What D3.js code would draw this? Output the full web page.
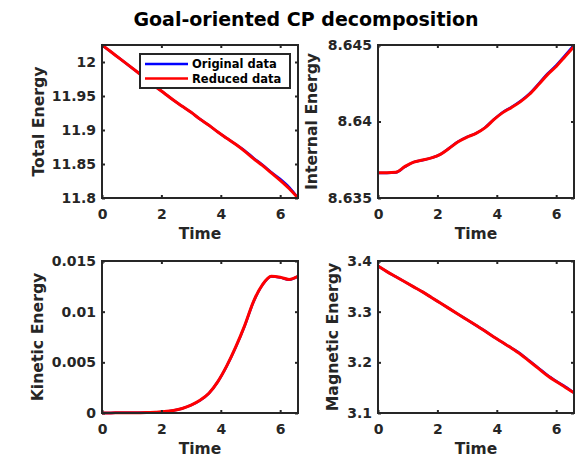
<!DOCTYPE html>
<html>
<head>
<meta charset="utf-8">
<script src="https://cdn.jsdelivr.net/npm/d3@7"></script>
<style>
  html, body { margin: 0; padding: 0; background: #fff; }
  svg { display: block; font-family: "DejaVu Sans", sans-serif; }
</style>
</head>
<body>
<svg id="chart" width="583" height="457"></svg>
<script>
// ---------- data ----------
const time = [0,0.3,0.6,0.9,1.2,1.5,1.8,2.1,2.4,2.7,3.0,3.3,3.6,3.9,4.2,4.5,4.8,5.1,5.4,5.7,6.0,6.3,6.6];

const totalOriginal = [12.025,12.015,12.005,11.995,11.985,11.975,11.964,11.954,11.944,11.935,11.926,11.916,11.907,11.897,11.888,11.879,11.870,11.859,11.849,11.838,11.828,11.816,11.800];
const totalReduced  = [12.025,12.015,12.005,11.995,11.985,11.975,11.964,11.954,11.944,11.935,11.926,11.916,11.907,11.897,11.888,11.879,11.869,11.858,11.848,11.837,11.826,11.814,11.800];

const internalOriginal = [8.63664,8.63664,8.63667,8.63703,8.63734,8.63747,8.63762,8.63785,8.63826,8.63869,8.63899,8.63923,8.63960,8.64014,8.64061,8.64095,8.64134,8.64182,8.64245,8.64311,8.64367,8.64432,8.64500];
const internalReduced  = [8.63665,8.63665,8.63668,8.63705,8.63735,8.63748,8.63762,8.63785,8.63825,8.63868,8.63898,8.63922,8.63958,8.64012,8.64058,8.64092,8.64130,8.64178,8.64240,8.64305,8.64360,8.64425,8.64490];

const kineticOriginal = [0.00001,0.00001,0.00002,0.00002,0.00003,0.00004,0.00006,0.00011,0.00024,0.00044,0.00077,0.00124,0.00194,0.00308,0.00462,0.00646,0.00855,0.01095,0.01262,0.01347,0.01338,0.01316,0.01348];
const kineticReduced  = [0.00001,0.00001,0.00002,0.00002,0.00003,0.00004,0.00008,0.00014,0.00025,0.00045,0.00078,0.00125,0.00195,0.00310,0.00465,0.00650,0.00860,0.01100,0.01265,0.01350,0.01340,0.01318,0.01350];

const magneticOriginal = [3.390,3.379,3.369,3.359,3.349,3.339,3.328,3.317,3.306,3.295,3.284,3.273,3.262,3.250,3.239,3.228,3.217,3.203,3.189,3.175,3.163,3.152,3.140];
const magneticReduced  = [3.390,3.379,3.369,3.359,3.349,3.339,3.328,3.317,3.306,3.295,3.284,3.273,3.262,3.250,3.239,3.228,3.216,3.202,3.188,3.174,3.162,3.151,3.140];

const xTicks = [0,2,4,6];
const totalTicks = [11.8,11.85,11.9,11.95,12];
const internalTicks = [8.635,8.64,8.645];
const kineticTicks = [0,0.005,0.01,0.015];
const magneticTicks = [3.1,3.2,3.3,3.4];

const titleText = "Goal-oriented CP decomposition";
const xLabel = "Time";
const legendLabels = ["Original data","Reduced data"];
const seriesColors = ["#0000ff","#ff0000"];

// ---------- layout ----------
const svg = d3.select("#chart");
const axisColor = "#262626";

const panels = [
  {x0:102, x1:298, y0:45,  y1:198, ydom:[11.8,12.025], yticks:totalTicks,    ylab:"Total Energy",     labX:43.5, orig:totalOriginal,    red:totalReduced, legend:true},
  {x0:378, x1:574, y0:45,  y1:198, ydom:[8.635,8.645], yticks:internalTicks, ylab:"Internal Energy",  labX:317,  orig:internalOriginal, red:internalReduced},
  {x0:102, x1:298, y0:261, y1:413, ydom:[0,0.015],     yticks:kineticTicks,  ylab:"Kinetic Energy",   labX:43,   orig:kineticOriginal,  red:kineticReduced},
  {x0:378, x1:574, y0:261, y1:413, ydom:[3.1,3.4],     yticks:magneticTicks, ylab:"Magnetic Energy",  labX:338,  orig:magneticOriginal, red:magneticReduced}
];

svg.append("text")
  .attr("x", 306).attr("y", 25.5)
  .attr("text-anchor", "middle")
  .attr("font-size", "19px").attr("font-weight", "bold")
  .attr("fill", "#000")
  .text(titleText);

panels.forEach((p, i) => {
  const x = d3.scaleLinear().domain([0, 6.6]).range([p.x0, p.x1]);
  const y = d3.scaleLinear().domain(p.ydom).range([p.y1, p.y0]);
  const g = svg.append("g");

  const clipId = "clip" + i;
  svg.append("clipPath").attr("id", clipId)
    .append("rect").attr("x", p.x0).attr("y", p.y0 - 2)
    .attr("width", p.x1 - p.x0 + 2).attr("height", p.y1 - p.y0 + 4);

  const line = d3.line().x((d, j) => x(time[j])).y(d => y(d)).curve(d3.curveMonotoneX);

  g.append("path").datum(p.orig)
    .attr("d", line).attr("fill", "none")
    .attr("stroke", seriesColors[0]).attr("stroke-width", 2.5)
    .attr("clip-path", `url(#${clipId})`);
  g.append("path").datum(p.red)
    .attr("d", line).attr("fill", "none")
    .attr("stroke", seriesColors[1]).attr("stroke-width", 3)
    .attr("clip-path", `url(#${clipId})`);

  const fmt = d => String(+d.toFixed(4));

  const styleAxis = sel => {
    sel.select(".domain").remove();
    sel.selectAll(".tick line").attr("stroke", axisColor).attr("stroke-width", 2);
    sel.selectAll(".tick text").attr("fill", axisColor)
      .attr("font-size", "14px").attr("font-weight", "bold")
      .attr("font-family", "DejaVu Sans, sans-serif");
  };

  g.append("g").attr("transform", `translate(0,${p.y1})`)
    .call(d3.axisBottom(x).tickValues(xTicks).tickSize(-3).tickPadding(11).tickFormat(fmt))
    .call(styleAxis);
  g.append("g").attr("transform", `translate(0,${p.y0})`)
    .call(d3.axisTop(x).tickValues(xTicks).tickSize(-3).tickFormat(""))
    .call(styleAxis);
  g.append("g").attr("transform", `translate(${p.x0},0)`)
    .call(d3.axisLeft(y).tickValues(p.yticks).tickSize(-3).tickPadding(6).tickFormat(fmt))
    .call(styleAxis);
  g.append("g").attr("transform", `translate(${p.x1},0)`)
    .call(d3.axisRight(y).tickValues(p.yticks).tickSize(-3).tickFormat(""))
    .call(styleAxis);

  g.append("rect")
    .attr("x", p.x0).attr("y", p.y0)
    .attr("width", p.x1 - p.x0).attr("height", p.y1 - p.y0)
    .attr("fill", "none").attr("stroke", axisColor).attr("stroke-width", 2);

  g.append("text")
    .attr("x", (p.x0 + p.x1) / 2).attr("y", p.y1 + 41)
    .attr("text-anchor", "middle")
    .attr("font-size", "15.5px").attr("font-weight", "bold")
    .attr("fill", axisColor)
    .text(xLabel);

  g.append("text")
    .attr("transform", `translate(${p.labX},${(p.y0 + p.y1) / 2}) rotate(-90)`)
    .attr("text-anchor", "middle")
    .attr("font-size", "15.7px").attr("font-weight", "bold")
    .attr("fill", axisColor)
    .text(p.ylab);

  if (p.legend) {
    const lg = g.append("g");
    lg.append("rect").attr("x", 140).attr("y", 54).attr("width", 150).attr("height", 34)
      .attr("fill", "#fff").attr("stroke", axisColor).attr("stroke-width", 2);
    legendLabels.forEach((lab, k) => {
      const ly = 64 + k * 14.5;
      lg.append("line").attr("x1", 145).attr("x2", 188).attr("y1", ly).attr("y2", ly)
        .attr("stroke", seriesColors[k]).attr("stroke-width", 2.5);
      lg.append("text").attr("x", 192).attr("y", ly + 4)
        .attr("font-size", "11.5px").attr("font-weight", "bold")
        .attr("fill", "#000").text(lab);
    });
  }
});
</script>
</body>
</html>
